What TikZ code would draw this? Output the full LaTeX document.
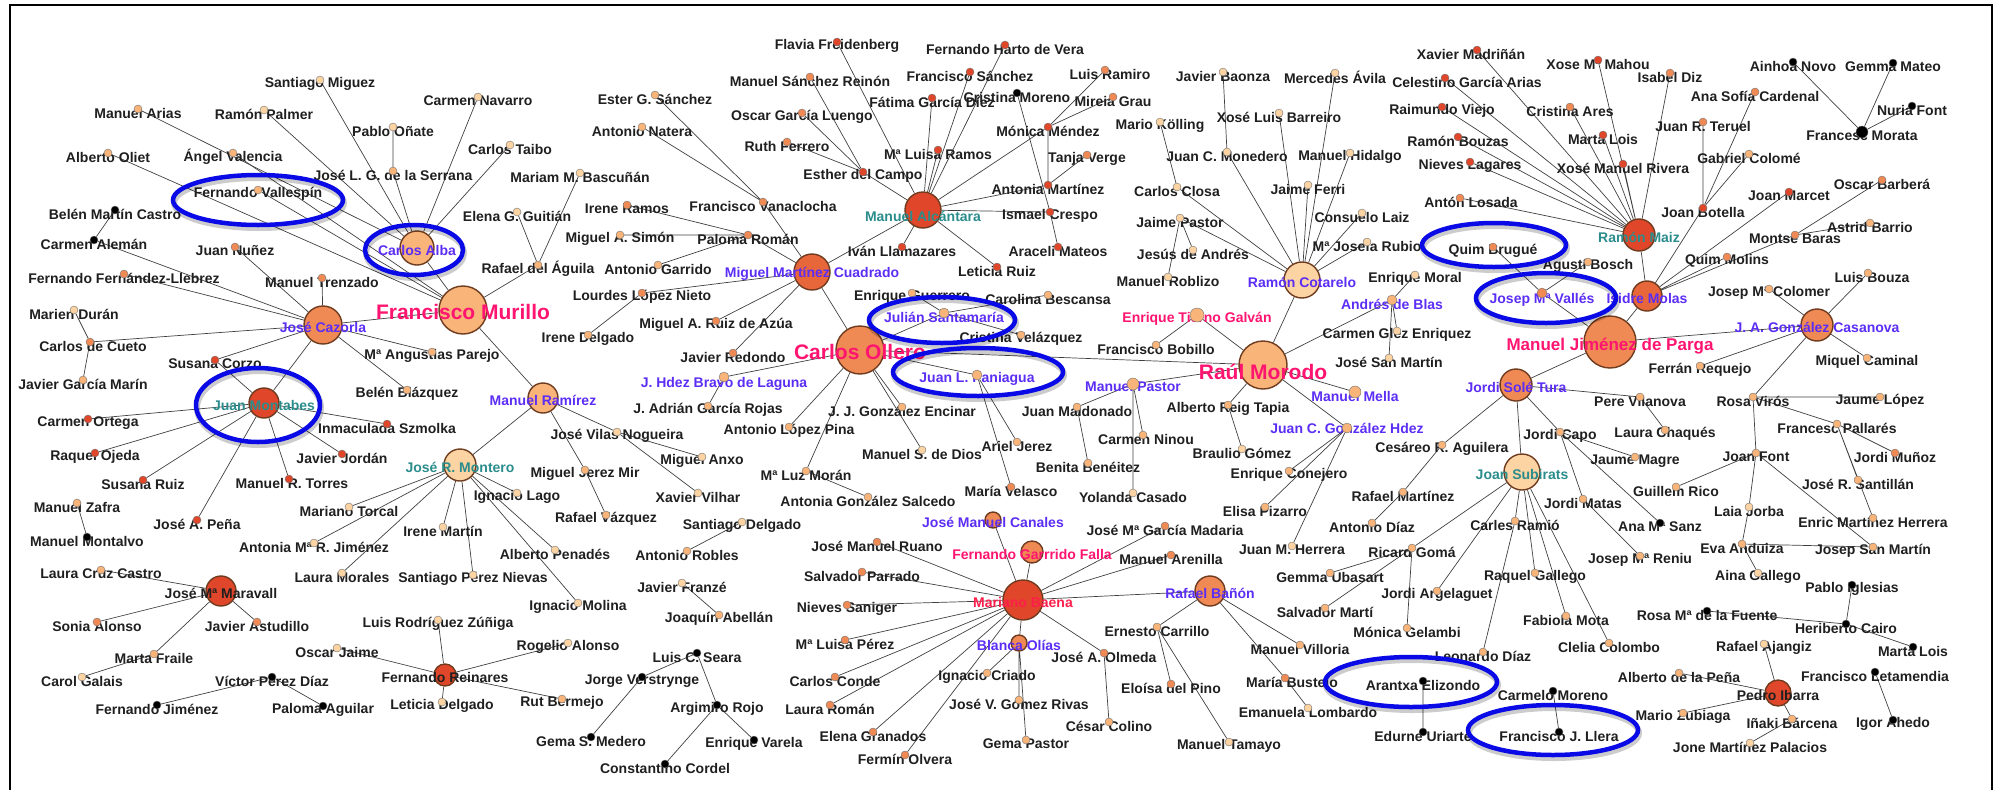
\documentclass[tikz,border=0pt]{standalone}
\usepackage{fontspec}
\setmainfont{Liberation Sans}
\usetikzlibrary{positioning, calc}

\definecolor{cpl}{HTML}{FCD3A2}
\definecolor{cpk}{HTML}{F8B479}
\definecolor{cor}{HTML}{F08A55}
\definecolor{crr}{HTML}{E8673A}
\definecolor{crd}{HTML}{E0462A}
\definecolor{rim}{HTML}{6E3B1E}
\definecolor{inkblue}{HTML}{5B2DF5}
\definecolor{inkteal}{HTML}{2B8C8C}
\definecolor{inkpink}{HTML}{FF1470}
\definecolor{inkred}{HTML}{FF1E4B}
\definecolor{hlblue}{HTML}{0A0AE6}

\pgfdeclarelayer{bg}
\pgfdeclarelayer{fg}
\pgfsetlayers{bg,main,fg}

\newcommand{\dsz}{8pt}
\tikzset{
  dot/.style={circle, draw=black!55, line width=0.4pt, fill=#1, minimum size=\dsz, inner sep=0pt},
  hubc/.style={circle, draw=rim, line width=1.4pt, fill=#1, inner sep=0pt},
  lbl/.style={font=\bfseries\fontsize{14}{14}\selectfont, text=black!88, inner sep=0pt},
  big/.style={font=\bfseries\fontsize{21}{21}\selectfont, text=inkpink},
  link/.style={draw=black!75, line width=0.7pt},
  hl/.style={draw=hlblue, line width=4.5pt,
    preaction={draw=black, draw opacity=0.2, line width=6pt, transform canvas={shift={(1pt,-3pt)}}}}
}

% person: [label opts]{id}{x}{y}{fill}{text}
\newcommand{\person}[6][]{%
  \node[lbl,#1] (#2t) at (#3,#4+4) {#6};
  \begin{pgfonlayer}{fg}\node[dot=#5] (#2) at (#3,#4) {};\end{pgfonlayer}}
% hub: [label opts]{id}{x}{y}{diameter}{fill}{text}
\newcommand{\hubnode}[7][]{%
  \node[hubc=#6, minimum size=#5pt] (#2) at (#3,#4) {};
  \node[lbl,#1] (#2t) at (#3,#4+2) {#7};}

\begin{document}
\begin{tikzpicture}[x=1pt, y=-1pt]
\useasboundingbox (0,0) rectangle (2009,790);
\draw[line width=2.5pt] (10,790) -- (10,5) -- (1992,5) -- (1992,790);

% hubs
\hubnode[text=inkblue]{alba}{417}{248}{34}{cpk}{Carlos Alba}
\hubnode[big]{murillo}{463}{310}{48}{cpk}{Francisco Murillo}
\hubnode[text=inkblue]{cazorla}{323}{325}{38}{cor}{José Cazorla}
\hubnode[text=inkteal]{montabes}{264}{403}{30}{crd}{Juan Montabes}
\hubnode[text=inkblue]{ramirez}{543}{398}{30}{cpk}{Manuel Ramírez}
\hubnode[text=inkteal]{montero}{460}{465}{32}{cpl}{José R. Montero}
\hubnode{maravall}{221}{591}{30}{crd}{José Mª Maravall}
\hubnode{reinares}{445}{675}{22}{crd}{Fernando Reinares}
\hubnode[text=inkblue]{mmc}{812}{272}{36}{crr}{Miguel Martínez Cuadrado}
\hubnode[text=inkteal, yshift=-4pt]{alcantara}{923}{210}{36}{crd}{Manuel Alcántara}
\hubnode[big]{ollero}{860}{350}{48}{cor}{Carlos Ollero}
\hubnode[text=inkblue]{cotarelo}{1302}{280}{36}{cpl}{Ramón Cotarelo}
\hubnode[big, yshift=-5pt]{morodo}{1263}{365}{48}{cpk}{Raúl Morodo}
\hubnode[text=inkteal]{maiz}{1639}{235}{32}{crd}{Ramón Maiz}
\hubnode[text=inkblue]{molas}{1647}{296}{30}{crr}{Isidre Molas}
\hubnode[big, font=\bfseries\fontsize{17}{17}\selectfont, yshift=-2pt]{parga}{1610}{342}{52}{cor}{Manuel Jiménez de Parga}
\hubnode[text=inkblue]{casanova}{1817}{325}{32}{cor}{J. A. González Casanova}
\hubnode[text=inkblue]{soletura}{1516}{385}{32}{cor}{Jordi Solé Tura}
\hubnode[text=inkteal]{subirats}{1522}{472}{36}{cpl}{Joan Subirats}
\hubnode{ibarra}{1778}{693}{26}{crd}{Pedro Ibarra}
\hubnode[text=inkred]{baena}{1023}{600}{40}{crd}{Mariano Baena}
\hubnode[text=inkblue]{banon}{1210}{591}{30}{cor}{Rafael Bañón}
\hubnode[text=inkpink]{garrido}{1032}{552}{22}{cor}{Fernando Garrrido Falla}
\hubnode[text=inkblue]{canales}{993}{520}{16}{cor}{José Manuel Canales}
\hubnode[text=inkblue]{olias}{1019}{643}{16}{cor}{Blanca Olías}

% left top
\person{smiguez}{320}{80}{cpl}{Santiago Miguez}
\person{marias}{138}{109}{cpk}{Manuel Arias}
\person{rpalmer}{264}{110}{cpl}{Ramón Palmer}
\person{cnavarro}{478}{97}{cpl}{Carmen Navarro}
\person{ponate}{393}{127}{cpl}{Pablo Oñate}
\person{ctaibo}{510}{145}{cpl}{Carlos Taibo}
\person{aoliet}{108}{153}{cpk}{Alberto Oliet}
\person{avalencia}{233}{153}{cpk}{Ángel Valencia}
\person{serrana}{393}{171}{cpk}{José L. G. de la Serrana}
\person{vallespin}{258}{190}{cpk}{Fernando Vallespín}
\person{bcastro}{115}{210}{black}{Belén Martín Castro}
\person{caleman}{94}{240}{black}{Carmen Alemán}
\person{jnunez}{235}{247}{cor}{Juan Nuñez}
\person{mbascunan}{580}{173}{cpl}{Mariam M. Bascuñán}
\person{eguitian}{517}{212}{cpl}{Elena G. Guitián}
\person{raguila}{538}{265}{cpk}{Rafael del Águila}

% left middle
\person{fllebrez}{124}{274}{cor}{Fernando Fernández-Llebrez}
\person{mtrenzado}{322}{278}{cor}{Manuel Trenzado}
\person{mduran}{74}{310}{cpl}{Marien Durán}
\person[xshift=3pt]{ccueto}{90}{342}{cor}{Carlos de Cueto}
\person{aparejo}{432}{352}{cpk}{Mª Angustias Parejo}
\person{scorzo}{215}{360}{crd}{Susana Corzo}
\person{gmarin}{83}{380}{cpk}{Javier García Marín}
\person{bblazquez}{407}{390}{cpk}{Belén Blázquez}
\person{cortega}{88}{419}{crd}{Carmen Ortega}
\person{szmolka}{387}{424}{crd}{Inmaculada Szmolka}
\person{rojeda}{95}{453}{crd}{Raquel Ojeda}
\person{jjordan}{342}{454}{crd}{Javier Jordán}
\person{sruiz}{143}{480}{crd}{Susana Ruiz}
\person[xshift=3pt]{mtorres}{289}{479}{crd}{Manuel R. Torres}
\person{ilago}{517}{493}{cpl}{Ignacio Lago}
\person{mzafra}{77}{503}{cpk}{Manuel Zafra}
\person{mtorcal}{349}{507}{cpl}{Mariano Torcal}
\person{apena}{197}{520}{crd}{José A. Peña}

% left bottom
\person{mmontalvo}{87}{537}{black}{Manuel Montalvo}
\person{arjimenez}{314}{543}{cpl}{Antonia Mª R. Jiménez}
\person{imartin}{443}{527}{cpl}{Irene Martín}
\person{lcruz}{101}{570}{cpk}{Laura Cruz Castro}
\person{lmorales}{342}{573}{cpl}{Laura Morales}
\person{pnievas}{473}{575}{cpl}{Santiago Pérez Nievas}
\person{salonso}{97}{622}{cor}{Sonia Alonso}
\person{jastudillo}{257}{622}{cor}{Javier Astudillo}
\person{lzuniga}{438}{620}{cpl}{Luis Rodríguez Zúñiga}
\person{ojaime}{337}{648}{cpl}{Oscar Jaime}
\person{mfraile}{154}{654}{cpk}{Marta Fraile}
\person{cgalais}{82}{677}{cpl}{Carol Galais}
\person{vperez}{272}{677}{black}{Víctor Pérez Díaz}
\person{fjimenez}{157}{705}{black}{Fernando Jiménez}
\person{paguilar}{323}{706}{black}{Paloma Aguilar}
\person{ldelgado}{442}{702}{cpl}{Leticia Delgado}

% centre left
\person{lnieto}{642}{293}{cor}{Lourdes López Nieto}
\person{idelgado}{588}{335}{cpk}{Irene Delgado}
\person{vilas}{617}{432}{cpl}{José Vilas Nogueira}
\person{janxo}{702}{457}{cpl}{Miguel Anxo}
\person{jerezmir}{585}{470}{cpk}{Miguel Jerez Mir}
\person{xvilhar}{698}{493}{cpl}{Xavier Vilhar}
\person{rvazquez}{606}{515}{cpk}{Rafael Vázquez}
\person{sdelgado}{742}{522}{cpl}{Santiago Delgado}
\person{penades}{555}{550}{cpl}{Alberto Penadés}
\person{arobles}{687}{551}{cpk}{Antonio Robles}
\person{jfranze}{682}{583}{cpl}{Javier Franzé}
\person{imolina}{578}{603}{cpl}{Ignacio Molina}
\person{jabellan}{719}{615}{cpk}{Joaquín Abellán}
\person{ralonso}{568}{643}{cpl}{Rogelio Alonso}
\person{lseara}{697}{653}{black}{Luis C. Seara}
\person{verstrynge}{642}{677}{black}{Jorge Verstrynge}
\person{rbermejo}{562}{699}{cpk}{Rut Bermejo}
\person{arojo}{717}{705}{black}{Argimiro Rojo}
\person{gmedero}{591}{737}{black}{Gema S. Medero}
\person{evarela}{754}{740}{black}{Enrique Varela}
\person{ccordel}{665}{764}{black}{Constantino Cordel}

% Martinez Cuadrado
\person{esanchez}{655}{95}{cpk}{Ester G. Sánchez}
\person{anatera}{642}{127}{cpk}{Antonio Natera}
\person{iramos}{627}{205}{cor}{Irene Ramos}
\person{vanaclocha}{763}{202}{cor}{Francisco Vanaclocha}
\person{msimon}{620}{235}{cpk}{Miguel A. Simón}
\person{proman}{748}{235}{cor}{Paloma Román}
\person{agarrido}{658}{265}{cpk}{Antonio Garrido}
\person{ruizazua}{716}{321}{cor}{Miguel A. Ruiz de Azúa}
\person{jredondo}{733}{353}{cor}{Javier Redondo}

% Alcantara
\person{ffreidenberg}{837}{42}{crd}{Flavia Freidenberg}
\person{hartovera}{1005}{45}{crd}{Fernando Harto de Vera}
\person{sreinon}{810}{77}{cor}{Manuel Sánchez Reinón}
\person{fsanchez}{970}{72}{crd}{Francisco Sánchez}
\person{fgarcia}{932}{98}{crd}{Fátima García Díez}
\person{cmoreno}{1017}{93}{black}{Cristina Moreno}
\person{mgrau}{1113}{97}{cor}{Mireia Grau}
\person[xshift=5pt]{lramiro}{1105}{70}{cor}{Luis Ramiro}
\person{ogarcia}{802}{113}{cor}{Oscar García Luengo}
\person{rferrero}{787}{142}{cor}{Ruth Ferrero}
\person{mlramos}{938}{150}{crd}{Mª Luisa Ramos}
\person{ecampo}{863}{172}{crd}{Esther del Campo}
\person{mmendez}{1048}{127}{crd}{Mónica Méndez}
\person{tverge}{1087}{155}{cor}{Tanja Verge}
\person{amartinez}{1048}{185}{crd}{Antonia Martínez}
\person{icrespo}{1050}{212}{crd}{Ismael Crespo}
\person{amateos}{1058}{247}{crd}{Araceli Mateos}
\person{illamazares}{902}{247}{crd}{Iván Llamazares}
\person{lruiz}{997}{267}{crd}{Leticia Ruiz}

% Ollero
\person{eguerrero}{912}{293}{cpk}{Enrique Guerrero}
\renewcommand{\dsz}{10pt}
\person[text=inkblue]{santamaria}{944}{313}{cpk}{Julián Santamaría}
\person[text=inkblue, yshift=-3pt]{bravo}{724}{377}{cpk}{J. Hdez Bravo de Laguna}
\person[text=inkblue]{paniagua}{977}{375}{cpk}{Juan L. Paniagua}
\renewcommand{\dsz}{8pt}
\person{cbescansa}{1048}{295}{cpk}{Carolina Bescansa}
\person{cvelazquez}{1021}{335}{cpk}{Cristina Velázquez}
\person{grojas}{708}{406}{cpk}{J. Adrián García Rojas}
\person{encinar}{902}{407}{cpk}{J. J. González Encinar}
\person{lpina}{789}{427}{cpk}{Antonio López Pina}
\person{sdedios}{922}{450}{cpl}{Manuel S. de Dios}
\person{ajerez}{1017}{442}{cpk}{Ariel Jerez}
\person{lmoran}{806}{471}{cpk}{Mª Luz Morán}
\person{mvelasco}{1011}{487}{cor}{María Velasco}
\person{gsalcedo}{868}{497}{cpk}{Antonia González Salcedo}

% Cotarelo
\person{baonza}{1223}{72}{cpl}{Javier Baonza}
\person{mavila}{1335}{73}{cpl}{Mercedes Ávila}
\person{xbarreiro}{1279}{113}{cpl}{Xosé Luis Barreiro}
\person{kolling}{1160}{122}{cpl}{Mario Kölling}
\person{monedero}{1227}{152}{cpl}{Juan C. Monedero}
\person{mhidalgo}{1350}{153}{cpl}{Manuel Hidalgo}
\person{cclosa}{1177}{187}{cpl}{Carlos Closa}
\person{jferri}{1308}{185}{cpl}{Jaime Ferri}
\person{claiz}{1362}{213}{cpl}{Consuelo Laiz}
\person{jpastor}{1180}{218}{cpl}{Jaime Pastor}
\person{jandres}{1193}{250}{cpl}{Jesús de Andrés}
\person{jrubio}{1367}{242}{cpl}{Mª Josefa Rubio}
\person{roblizo}{1168}{277}{cpl}{Manuel Roblizo}
\person{emoral}{1415}{275}{cpl}{Enrique Moral}

% Morodo
\renewcommand{\dsz}{14pt}
\person[text=inkpink]{tierno}{1197}{315}{cpk}{Enrique Tierno Galván}
\renewcommand{\dsz}{12pt}
\person[text=inkblue, yshift=2pt]{mpastor}{1133}{384}{cpk}{Manuel Pastor}
\person[text=inkblue]{mmella}{1355}{392}{cpk}{Manuel Mella}
\renewcommand{\dsz}{10pt}
\person[text=inkblue]{ablas}{1392}{300}{cpk}{Andrés de Blas}
\person[text=inkblue, yshift=4pt]{jcgonzalez}{1347}{428}{cpk}{Juan C. González Hdez}
\renewcommand{\dsz}{8pt}
\person{bobillo}{1156}{345}{cpk}{Francisco Bobillo}
\person{cglez}{1397}{331}{cpl}{Carmen Glez Enriquez}
\person{jsanmartin}{1389}{358}{cpl}{José San Martín}
\person{jmaldonado}{1077}{407}{cpk}{Juan Maldonado}
\person{reig}{1228}{405}{cpk}{Alberto Reig Tapia}
\person[xshift=3pt]{cninou}{1143}{435}{cpk}{Carmen Ninou}
\person{bgomez}{1242}{449}{cpl}{Braulio Gómez}
\person{bbeneitez}{1088}{463}{cpk}{Benita Benéitez}
\person{econejero}{1289}{471}{cpk}{Enrique Conejero}
\person{ycasado}{1133}{493}{cpl}{Yolanda Casado}
\person{epizarro}{1265}{507}{cpk}{Elisa Pizarro}
\person{jmherrera}{1292}{546}{cpl}{Juan M. Herrera}

% Maiz and Molas
\person[xshift=-6pt]{madrinan}{1477}{50}{crd}{Xavier Madriñán}
\person[xshift=22pt]{cgarcia}{1445}{78}{crd}{Celestino García Arias}
\person{rviejo}{1442}{107}{crd}{Raimundo Viejo}
\person{rbouzas}{1458}{137}{crd}{Ramón Bouzas}
\person{nlagares}{1470}{162}{crd}{Nieves Lagares}
\person[xshift=11pt]{alosada}{1460}{198}{cor}{Antón Losada}
\person{qbrugue}{1493}{247}{cor}{Quim Brugué}
\person{abosch}{1588}{262}{cpk}{Agustí Bosch}
\person{xmahou}{1598}{60}{crd}{Xose Mª Mahou}
\person{idiz}{1670}{73}{cor}{Isabel Diz}
\person{cares}{1570}{107}{cor}{Cristina Ares}
\person{asofia}{1755}{92}{cor}{Ana Sofía Cardenal}
\person{jteruel}{1703}{122}{cor}{Juan R. Teruel}
\person{mlois}{1603}{135}{crd}{Marta Lois}
\person{xrivera}{1623}{164}{crd}{Xosé Manuel Rivera}
\person{gcolome}{1749}{154}{cpk}{Gabriel Colomé}
\person{obarbera}{1882}{180}{cor}{Oscar Barberá}
\person{jmarcet}{1789}{192}{crd}{Joan Marcet}
\person{jbotella}{1703}{208}{crd}{Joan Botella}
\person{abarrio}{1870}{223}{cpk}{Astrid Barrio}
\person{mbaras}{1795}{235}{cor}{Montse Baras}
\person{qmolins}{1727}{257}{cor}{Quim Molins}
\person{anovo}{1793}{62}{black}{Ainhoa Novo}
\person{gmateo}{1893}{63}{black}{Gemma Mateo}
\person{nfont}{1912}{106}{black}{Nuria Font}
\renewcommand{\dsz}{12pt}
\person{fmorata}{1862}{132}{black}{Francesc Morata}
\renewcommand{\dsz}{10pt}
\person[text=inkblue, yshift=-3pt]{valles}{1542}{293}{cor}{Josep Mª Vallés}
\renewcommand{\dsz}{8pt}

% Parga side
\person[xshift=4pt]{lbouza}{1868}{273}{cpk}{Luis Bouza}
\person{colomer}{1769}{289}{cpk}{Josep Mª Colomer}
\person{mcaminal}{1867}{358}{cpk}{Miquel Caminal}
\person{frequejo}{1700}{366}{cpk}{Ferrán Requejo}
\person{pvilanova}{1640}{397}{cpk}{Pere Vilanova}
\person{rviros}{1753}{397}{cpk}{Rosa Virós}
\person{jlopez}{1880}{397}{cpk}{Jaume López}
\person{fpallares}{1837}{424}{cpk}{Francesc Pallarés}
\person{jcapo}{1560}{432}{cpk}{Jordi Capo}
\person{lchaques}{1665}{430}{cpk}{Laura Chaqués}
\person{jfont}{1756}{453}{cpk}{Joan Font}
\person{jmunoz}{1895}{453}{cor}{Jordi Muñoz}
\person{jmagre}{1635}{457}{cpk}{Jaume Magre}
\person{santillan}{1858}{480}{cpk}{José R. Santillán}
\person{grico}{1676}{487}{cpk}{Guillem Rico}
\person{jmatas}{1583}{499}{cpk}{Jordi Matas}
\person{ljorba}{1749}{507}{cpl}{Laia Jorba}
\person{cramio}{1515}{521}{cpk}{Carles Ramió}
\person{asanz}{1660}{523}{black}{Ana Mª Sanz}
\person{emherrera}{1873}{518}{cpk}{Enric Martínez Herrera}
\person{eanduiza}{1742}{544}{cpk}{Eva Anduiza}
\person{jsanmartin2}{1873}{547}{cpk}{Josep San Martín}
\person{reniu}{1640}{556}{cpk}{Josep Mª Reniu}
\person{rgallego}{1535}{573}{cpk}{Raquel Gallego}
\person{agallego}{1758}{573}{cpl}{Aina Gallego}
\person{piglesias}{1852}{585}{black}{Pablo Iglesias}
\person{rfuente}{1707}{611}{black}{Rosa Mª de la Fuente}
\person{fmota}{1566}{616}{cpk}{Fabiola Mota}
\person{hcairo}{1846}{624}{black}{Heriberto Cairo}
\person{ccolombo}{1609}{643}{cpk}{Clelia Colombo}
\person{rajangiz}{1764}{644}{cpl}{Rafael Ajangiz}
\person{mlois2}{1913}{647}{black}{Marta Lois}
\person{ldiaz}{1483}{652}{cpk}{Leonardo Díaz}
\person{apena2}{1679}{673}{cpk}{Alberto de la Peña}
\person{fletamendia}{1875}{672}{black}{Francisco Letamendia}
\person{cmoreno2}{1553}{691}{black}{Carmelo Moreno}
\person{mzubiaga}{1683}{713}{cpk}{Mario Zubiaga}
\person{ibarcena}{1792}{719}{cpk}{Iñaki Bárcena}
\person{iahedo}{1893}{720}{black}{Igor Ahedo}
\person{fllera}{1559}{732}{black}{Francisco J. Llera}
\person{jpalacios}{1750}{743}{cpl}{Jone Martínez Palacios}

% Subirats side
\person{caguilera}{1442}{445}{cpk}{Cesáreo R. Aguilera}
\person{rmartinez}{1403}{492}{cpk}{Rafael Martínez}
\person{adiaz}{1372}{523}{cpk}{Antonio Díaz}
\person{rgoma}{1412}{548}{cpk}{Ricard Gomá}
\person{gubasart}{1330}{573}{cpk}{Gemma Ubasart}
\person{argelaguet}{1437}{591}{cpk}{Jordi Argelaguet}
\person{smarti}{1325}{608}{cpk}{Salvador Martí}
\person{mgelambi}{1407}{628}{cpk}{Mónica Gelambi}
\person{aelizondo}{1423}{681}{black}{Arantxa Elizondo}
\person{euriarte}{1423}{732}{black}{Edurne Uriarte}

% Baena
\person{gmadaria}{1165}{526}{cor}{José Mª García Madaria}
\person{marenilla}{1171}{555}{cor}{Manuel Arenilla}
\person{ecarrillo}{1157}{627}{cpk}{Ernesto Carrillo}
\person{olmeda}{1104}{653}{cor}{José A. Olmeda}
\person{villoria}{1300}{645}{cpk}{Manuel Villoria}
\person{icriado}{987}{673}{cpk}{Ignacio Criado}
\person[xshift=7pt]{mbustelo}{1285}{678}{cor}{María Bustelo}
\person{epino}{1171}{684}{cor}{Eloísa del Pino}
\person{grivas}{1019}{700}{cpk}{José V. Gómez Rivas}
\person{elombardo}{1308}{708}{cpl}{Emanuela Lombardo}
\person{ccolino}{1109}{722}{cpk}{César Colino}
\person{gpastor}{1026}{740}{cpk}{Gema Pastor}
\person{mtamayo}{1229}{742}{cpl}{Manuel Tamayo}
\person{jmruano}{877}{542}{cor}{José Manuel Ruano}
\person{sparrado}{862}{572}{cor}{Salvador Parrado}
\person{nsaniger}{847}{605}{cor}{Nieves Saniger}
\person{mlperez}{845}{640}{cor}{Mª Luisa Pérez}
\person{cconde}{835}{677}{cor}{Carlos Conde}
\person{lroman}{830}{705}{cor}{Laura Román}
\person{egranados}{873}{732}{cor}{Elena Granados}
\person{folvera}{905}{755}{cor}{Fermín Olvera}

% links
\begin{pgfonlayer}{bg}
\draw[link] (alba) -- (smiguez) (alba) -- (rpalmer) (alba) -- (serrana) (alba) -- (cnavarro) (alba) -- (ctaibo) (alba) -- (marias) (serrana) -- (ponate);
\draw[link] (murillo) -- (alba) (murillo) -- (aoliet) (murillo) -- (vallespin) (murillo) -- (avalencia) (murillo) -- (raguila) (murillo) -- (cazorla) (murillo) -- (ramirez);
\draw[link] (raguila) -- (mbascunan) (raguila) -- (eguitian);
\draw[link] (cazorla) -- (fllebrez) (cazorla) -- (mtrenzado) (cazorla) -- (ccueto) (cazorla) -- (scorzo) (cazorla) -- (aparejo) (cazorla) -- (bblazquez) (cazorla) -- (jnunez) (cazorla) -- (montabes) (cazorla) -- (caleman);
\draw[link] (bcastro) -- (caleman) (mduran) -- (ccueto) (ccueto) -- (gmarin) (mzafra) -- (mmontalvo);
\draw[link] (montabes) -- (scorzo) (montabes) -- (cortega) (montabes) -- (rojeda) (montabes) -- (sruiz) (montabes) -- (apena) (montabes) -- (mtorres) (montabes) -- (jjordan) (montabes) -- (szmolka);
\draw[link] (ramirez) -- (vilas) (vilas) -- (janxo) (vilas) -- (xvilhar) (ramirez) -- (jerezmir) (jerezmir) -- (rvazquez) (ramirez) -- (montero);
\draw[link] (montero) -- (ilago) (montero) -- (mtorcal) (montero) -- (arjimenez) (montero) -- (lmorales) (montero) -- (imartin) (montero) -- (pnievas) (montero) -- (penades) (montero) -- (imolina);
\draw[link] (maravall) -- (lcruz) (maravall) -- (salonso) (maravall) -- (mfraile) (maravall) -- (jastudillo) (mfraile) -- (cgalais);
\draw[link] (vperez) -- (fjimenez) (vperez) -- (paguilar);
\draw[link] (reinares) -- (ojaime) (reinares) -- (lzuniga) (reinares) -- (ldelgado) (reinares) -- (ralonso) (reinares) -- (rbermejo);
\draw[link] (arobles) -- (sdelgado) (jfranze) -- (jabellan);
\draw[link] (lseara) -- (verstrynge) (verstrynge) -- (gmedero) (lseara) -- (arojo) (arojo) -- (evarela) (arojo) -- (ccordel);
\draw[link] (mmc) -- (lnieto) (lnieto) -- (idelgado) (mmc) -- (vanaclocha) (vanaclocha) -- (esanchez) (vanaclocha) -- (anatera) (mmc) -- (proman) (proman) -- (iramos) (proman) -- (msimon) (proman) -- (agarrido) (mmc) -- (ruizazua) (mmc) -- (jredondo) (mmc) -- (alcantara) (mmc) -- (ollero);
\draw[link] (alcantara) -- (ffreidenberg) (alcantara) -- (ecampo) (alcantara) -- (fgarcia) (alcantara) -- (fsanchez) (alcantara) -- (hartovera) (alcantara) -- (mlramos) (alcantara) -- (mmendez) (alcantara) -- (amartinez) (alcantara) -- (icrespo) (alcantara) -- (illamazares) (alcantara) -- (lruiz);
\draw[link] (ecampo) -- (sreinon) (ecampo) -- (ogarcia) (ecampo) -- (rferrero) (mmendez) -- (lramiro) (mmendez) -- (mgrau) (mmendez) -- (amartinez) (amartinez) -- (tverge) (cmoreno) -- (icrespo) (icrespo) -- (amateos);
\draw[link] (ollero) -- (santamaria) (ollero) -- (bravo) (ollero) -- (lpina) (ollero) -- (lmoran) (ollero) -- (encinar) (ollero) -- (sdedios) (ollero) -- (morodo) (ollero) -- (paniagua);
\draw[link] (santamaria) -- (eguerrero) (santamaria) -- (cbescansa) (santamaria) -- (cvelazquez) (bravo) -- (grojas) (lmoran) -- (gsalcedo) (paniagua) -- (ajerez) (paniagua) -- (mvelasco);
\draw[link] (morodo) -- (cotarelo) (morodo) -- (tierno) (morodo) -- (mpastor) (morodo) -- (reig) (morodo) -- (mmella) (morodo) -- (jcgonzalez) (morodo) -- (ablas);
\draw[link] (tierno) -- (bobillo) (reig) -- (bgomez) (ablas) -- (emoral) (ablas) -- (cglez) (ablas) -- (jsanmartin);
\draw[link] (mpastor) -- (jmaldonado) (mpastor) -- (cninou) (mpastor) -- (ycasado) (jmaldonado) -- (bbeneitez);
\draw[link] (jcgonzalez) -- (econejero) (jcgonzalez) -- (epizarro) (jcgonzalez) -- (jmherrera);
\draw[link] (cotarelo) -- (monedero) (cotarelo) -- (mavila) (cotarelo) -- (xbarreiro) (cotarelo) -- (cclosa) (cotarelo) -- (mhidalgo) (cotarelo) -- (jferri) (cotarelo) -- (claiz) (cotarelo) -- (jrubio) (cotarelo) -- (jpastor);
\draw[link] (baonza) -- (monedero) (kolling) -- (cclosa) (jpastor) -- (jandres) (jpastor) -- (roblizo);
\draw[link] (maiz) -- (madrinan) (maiz) -- (cgarcia) (maiz) -- (rviejo) (maiz) -- (rbouzas) (maiz) -- (nlagares) (maiz) -- (alosada) (maiz) -- (xmahou) (maiz) -- (cares) (maiz) -- (mlois) (maiz) -- (idiz) (maiz) -- (xrivera) (maiz) -- (molas);
\draw[link] (jbotella) -- (jteruel) (jbotella) -- (asofia) (jbotella) -- (gcolome) (jbotella) -- (molas);
\draw[link] (molas) -- (qmolins) (molas) -- (jmarcet) (molas) -- (mbaras) (molas) -- (parga) (mbaras) -- (obarbera) (mbaras) -- (abarrio);
\draw[link] (fmorata) -- (anovo) (fmorata) -- (gmateo) (fmorata) -- (nfont);
\draw[link] (valles) -- (qbrugue) (valles) -- (abosch) (valles) -- (parga);
\draw[link] (parga) -- (casanova) (parga) -- (soletura) (casanova) -- (colomer) (casanova) -- (lbouza) (casanova) -- (mcaminal) (casanova) -- (rviros) (casanova) -- (frequejo);
\draw[link] (rviros) -- (jlopez) (rviros) -- (fpallares) (rviros) -- (jfont) (fpallares) -- (jmunoz) (fpallares) -- (santillan) (fpallares) -- (emherrera);
\draw[link] (jfont) -- (grico) (jfont) -- (ljorba) (jfont) -- (jsanmartin2) (ljorba) -- (eanduiza) (eanduiza) -- (agallego) (eanduiza) -- (jsanmartin2);
\draw[link] (soletura) -- (pvilanova) (pvilanova) -- (lchaques) (soletura) -- (jcapo) (jcapo) -- (jmagre) (jcapo) -- (asanz) (jcapo) -- (jmatas) (jmatas) -- (reniu) (soletura) -- (subirats) (soletura) -- (caguilera);
\draw[link] (subirats) -- (cramio) (subirats) -- (rgallego) (subirats) -- (fmota) (subirats) -- (ccolombo) (subirats) -- (rgoma) (subirats) -- (argelaguet) (cramio) -- (ldiaz);
\draw[link] (caguilera) -- (rmartinez) (rmartinez) -- (adiaz) (rgoma) -- (gubasart) (rgoma) -- (smarti) (rgoma) -- (mgelambi);
\draw[link] (baena) -- (jmruano) (baena) -- (sparrado) (baena) -- (nsaniger) (baena) -- (mlperez) (baena) -- (cconde) (baena) -- (lroman) (baena) -- (egranados) (baena) -- (folvera);
\draw[link] (baena) -- (canales) (baena) -- (garrido) (baena) -- (gmadaria) (baena) -- (marenilla) (baena) -- (banon) (baena) -- (olmeda) (baena) -- (olias);
\draw[link] (olias) -- (icriado) (olias) -- (grivas) (olias) -- (gpastor) (olmeda) -- (ccolino);
\draw[link] (banon) -- (ecarrillo) (banon) -- (villoria) (banon) -- (mbustelo) (mbustelo) -- (elombardo) (ecarrillo) -- (epino) (ecarrillo) -- (mtamayo);
\draw[link] (aelizondo) -- (euriarte) (cmoreno2) -- (fllera);
\draw[link] (ibarra) -- (rajangiz) (ibarra) -- (apena2) (ibarra) -- (mzubiaga) (ibarra) -- (ibarcena) (ibarcena) -- (jpalacios);
\draw[link] (rfuente) -- (hcairo) (hcairo) -- (piglesias) (hcairo) -- (mlois2) (fletamendia) -- (iahedo);
\end{pgfonlayer}

% highlighted names
\begin{pgfonlayer}{fg}
\draw[hl] (258,200) ellipse [x radius=85, y radius=25];
\draw[hl] (414,250) ellipse [x radius=49, y radius=25];
\draw[hl] (258,405) ellipse [x radius=62, y radius=37];
\draw[hl] (942,320) ellipse [x radius=73, y radius=23];
\draw[hl] (978,372) ellipse [x radius=85, y radius=24];
\draw[hl] (1494,245) ellipse [x radius=72, y radius=22];
\draw[hl] (1546,298) ellipse [x radius=70, y radius=25];
\draw[hl] (1411,682) ellipse [x radius=86, y radius=25];
\draw[hl] (1553,730) ellipse [x radius=85, y radius=25];
\end{pgfonlayer}
\end{tikzpicture}
\end{document}
